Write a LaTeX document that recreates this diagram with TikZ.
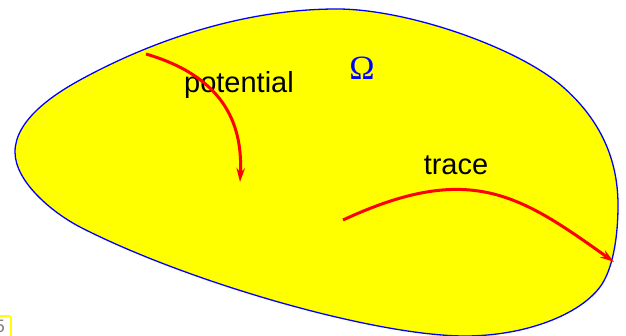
\documentclass[tikz,border=0pt]{standalone}
\usepackage{fontspec}
\setmainfont{Liberation Sans}
\newfontfamily\omegafont{Liberation Serif}
\usetikzlibrary{arrows.meta}
\definecolor{blobyellow}{RGB}{255,255,0}
\definecolor{blobblue}{RGB}{0,0,255}
\definecolor{arrred}{RGB}{255,0,0}
\tikzset{
  blob/.style={fill=blobyellow, draw=blobblue, line width=1.3pt},
  redarrow/.style={draw=arrred, line width=3pt, -{Stealth[length=14pt,width=8.5pt]}},
  lbl/.style={font=\fontsize{29}{32}\selectfont, text=black, inner sep=0pt, anchor=base},
  omega/.style={font=\omegafont\fontsize{34}{36}\selectfont, text=blobblue, inner sep=0pt},
  pagebox/.style={draw=blobyellow, line width=1.8pt, rounded corners=2pt},
  pagenum/.style={font=\fontsize{18}{20}\selectfont, text=gray, inner sep=0pt}
}
\begin{document}
\begin{tikzpicture}[x=1pt,y=-1pt]
\useasboundingbox (0,0) rectangle (626,336);
\clip (0,0) rectangle (626,336);
\coordinate (A) at (15,152);
\coordinate (P) at (80,80);
\coordinate (B) at (337,9);
\coordinate (Q) at (563,87);
\coordinate (C) at (618,205);
\coordinate (R) at (600,287);
\coordinate (D) at (465,336);
\coordinate (E) at (80,227);
\draw[blob] (A) .. controls (15,120) and (53.7,94.4) .. (P)
  .. controls (150,41.6) and (242,9) .. (B)
  .. controls (407,9) and (518,47.4) .. (Q)
  .. controls (596.75,116.7) and (618,155) .. (C)
  .. controls (618,240) and (612,271) .. (R)
  .. controls (579,315) and (525,336) .. (D)
  .. controls (375,336) and (187,282) .. (E)
  .. controls (53,213) and (15,182) .. (A) -- cycle;
\node[omega] (om) at (362,68) {Ω};
\node[lbl] (pot) at (239,93) {potential};
\node[lbl] (tr) at (456,175) {trace};
\coordinate (p0) at (146,54);
\coordinate (p1) at (240,182);
\coordinate (t0) at (343,220);
\coordinate (t1) at (614,262);
\draw[redarrow] (p0) .. controls (221,76) and (243,121) .. (p1);
\draw[redarrow] (t0) .. controls (470,161) and (520,195) .. (t1);
\draw[pagebox] (-14,316) rectangle (11,350);
\node[pagenum] (pn) at (0,326) {5};
\end{tikzpicture}
\end{document}
